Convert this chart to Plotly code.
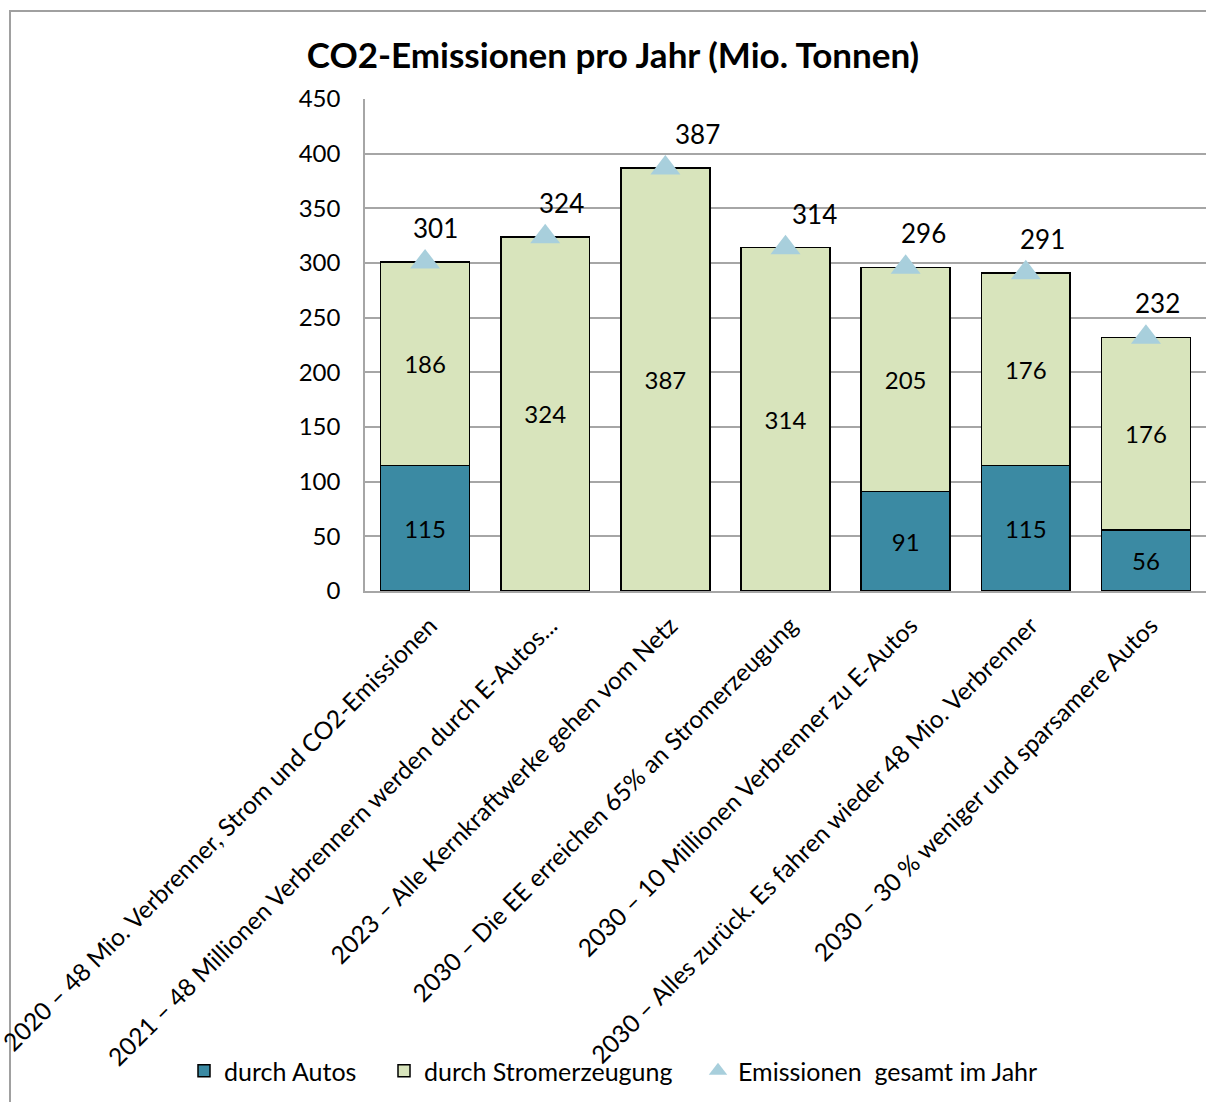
import plotly.graph_objects as go

categories = [
    "2020 – 48 Mio. Verbrenner, Strom und CO2-Emissionen",
    "2021 – 48 Millionen Verbrennern werden durch E-Autos...",
    "2023 – Alle Kernkraftwerke gehen vom Netz",
    "2030 – Die EE erreichen 65% an Stromerzeugung",
    "2030 – 10 Millionen Verbrenner zu E-Autos",
    "2030 – Alles zurück. Es fahren wieder 48 Mio. Verbrenner",
    "2030 – 30 % weniger und sparsamere Autos",
]
autos = [115, None, None, None, 91, 115, 56]
strom = [186, 324, 387, 314, 205, 176, 176]
gesamt = [301, 324, 387, 314, 296, 291, 232]
y_ticks = [0, 50, 100, 150, 200, 250, 300, 350, 400, 450]

total_label_dx = [10, 16, 32, 29, 18, 17, 12]

FONT = "Lato, sans-serif"
W, H = 1206, 1102
ML, MR, MT, MB = 365, 0, 99, 511

pw, ph = W - ML - MR, H - MT - MB
def px_x(p): return (p - ML) / pw
def px_y(p): return (H - MB - p) / ph

fig = go.Figure()
fig.add_trace(go.Bar(
    name="durch Autos", x=categories, y=autos, legend="legend",
    marker=dict(color="#3b8aa3", line=dict(color="black", width=1.5)),
    texttemplate="%{y}", textposition="inside", insidetextanchor="middle",
    textangle=0, textfont=dict(color="black", size=24, family=FONT),
))
fig.add_trace(go.Bar(
    name="durch Stromerzeugung", x=categories, y=strom, legend="legend2",
    marker=dict(color="#d8e4bc", line=dict(color="black", width=1.5)),
    texttemplate="%{y}", textposition="inside", insidetextanchor="middle",
    textangle=0, textfont=dict(color="black", size=24, family=FONT),
))
fig.add_trace(go.Scatter(
    name="Emissionen  gesamt im Jahr", x=categories, y=gesamt, mode="markers", legend="legend3",
    marker=dict(symbol="triangle-up", size=26, color="#a8cfdc"),
    cliponaxis=False,
))

for c, v, dx in zip(categories, gesamt, total_label_dx):
    fig.add_annotation(x=c, y=v, text=str(v), showarrow=False, xshift=dx, yshift=34,
                       font=dict(size=26, color="black", family=FONT))

# chart area border
fig.add_shape(type="rect", xref="paper", yref="paper",
              x0=px_x(10), x1=px_x(W + 20), y0=px_y(H + 20), y1=px_y(11),
              line=dict(color="#a0a0a0", width=2), fillcolor="rgba(0,0,0,0)", layer="below")

leg_common = dict(orientation="h", xanchor="left", y=px_y(1071), yanchor="middle",
                  font=dict(size=25, family=FONT, color="black"), bgcolor="rgba(0,0,0,0)",
                  itemwidth=30)

fig.update_layout(
    width=W, height=H,
    margin=dict(l=ML, r=MR, t=MT, b=MB, autoexpand=False),
    paper_bgcolor="white", plot_bgcolor="white",
    barmode="stack", bargap=0.26,
    font=dict(family=FONT, color="black"),
    title=dict(text="<b>CO2-Emissionen pro Jahr (Mio. Tonnen)</b>", x=613 / W, xanchor="center",
               y=1 - 56 / H, yanchor="middle", font=dict(size=35, family=FONT, color="black")),
    legend=dict(x=px_x(184), **leg_common),
    legend2=dict(x=px_x(384), **leg_common),
    legend3=dict(x=px_x(698), **leg_common),
    showlegend=True,
)
fig.update_yaxes(range=[0, 450], tickvals=y_ticks, showgrid=True, gridcolor="#a6a6a6", gridwidth=1.5,
                 showline=True, linecolor="#a6a6a6", linewidth=1.5, zeroline=False,
                 tickfont=dict(size=24, family=FONT, color="black"), ticks="", automargin=False,
                 ticklabelstandoff=18)
fig.update_xaxes(tickangle=-45, tickfont=dict(size=24.5, family=FONT, color="black"),
                 showline=True, linecolor="#a6a6a6", linewidth=1.5, automargin=False,
                 ticklabelshift=5, ticklabelstandoff=9)

fig.write_html("out.html", config={"displayModeBar": False},
               post_script="document.body.style.margin='0';document.body.style.overflow='hidden';")
